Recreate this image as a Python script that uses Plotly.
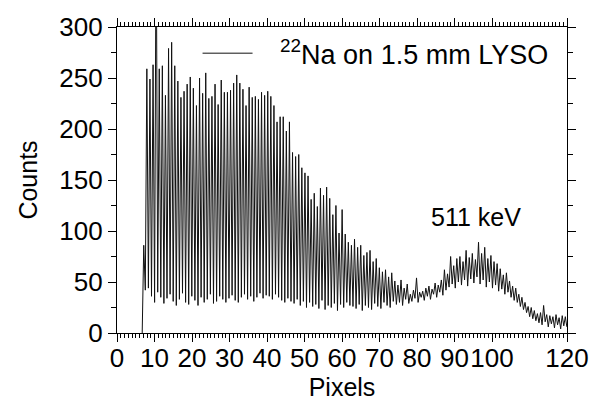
import numpy as np
import plotly.graph_objects as go

# 采样网格（像素单位）
x_start = 6.72
x_step = 0.4133

# 起始上升段
lead_in = [0, 86, 42]

# 各峰顶计数
peaks = [
    259, 249, 263, 420, 259, 262, 233, 279, 285, 262,
    247, 231, 237, 244, 251, 240, 223, 250, 235, 255,
    230, 232, 244, 224, 248, 236, 236, 238, 245, 253,
    245, 239, 223, 241, 231, 232, 229, 236, 233, 237,
    232, 223, 207, 212, 212, 198, 207, 177, 173, 175,
    162, 157, 154, 131, 137, 124, 142, 135, 143, 132,
    116, 125, 98, 121, 97, 89, 86, 92, 84, 86,
    76, 79, 81, 70, 73, 64, 60, 62, 55, 59,
    51, 47, 52, 44, 48, 38, 42, 54, 40, 41,
    44, 46, 43, 49, 47, 52, 62, 58, 75, 66,
    73, 75, 70, 81, 74, 78, 72, 89, 78, 84,
    73, 76, 70, 68, 63, 57, 59, 51, 46, 44,
    38, 35, 30, 26, 25, 22, 19, 20, 27, 18,
    17, 16, 18, 15, 17, 16,
]

# 各峰之后的谷底计数
valleys = [
    44, 36, 30, 40, 35, 29, 34, 38, 31, 27, 33, 39, 30, 28, 36, 32,
    27, 35, 30, 33, 38, 29, 31, 36, 33, 30, 34, 37, 32, 30, 35, 38,
    33, 36, 31, 35, 39, 34, 37, 36, 33, 38, 35, 32, 30, 34, 31,
    29, 33, 27, 31, 25, 30, 26, 28, 24, 32, 23, 27, 25, 29, 22, 28, 25, 30, 27, 26,
    24, 28, 22, 27, 25, 23, 29, 26, 24, 30, 27, 25, 31, 28, 30, 27, 33, 29, 31, 34,
    30, 35, 32, 36, 33, 38, 35, 40, 37,
    42, 45, 48, 44, 50, 47, 52, 46, 53, 49, 55, 48, 52, 45, 50, 44, 47, 41, 43, 38, 40,
    35, 32, 30, 26, 23, 20, 16, 14, 12, 10,
    8, 11, 6, 9, 5, 8, 4, 7, 6,
]

x_ticks = [0, 10, 20, 30, 40, 50, 60, 70, 80, 90, 100, 120]
y_ticks = [0, 50, 100, 150, 200, 250, 300]

counts = list(lead_in)
for p, v in zip(peaks, valleys):
    counts += [p, v]
counts = np.array(counts)
pixels = x_start + x_step * np.arange(len(counts))

FONT = "Liberation Sans, Arial, sans-serif"

fig = go.Figure()
fig.add_trace(
    go.Scatter(
        x=pixels,
        y=counts,
        mode="lines",
        name="&nbsp;&nbsp;&nbsp;<sup>22</sup>Na on 1.5 mm LYSO",
        line=dict(color="#111111", width=1),
    )
)

fig.add_annotation(
    x=95.6, y=114, text="511 keV", showarrow=False,
    font=dict(size=25, color="black", family=FONT),
)

axis_common = dict(
    showline=True, linecolor="black", linewidth=1.2, mirror="ticks",
    ticks="outside", ticklen=8, tickwidth=1.2, tickcolor="black",
    showgrid=False, zeroline=False, tickangle=0,
    tickfont=dict(size=26, color="black", family=FONT),
    title_font=dict(size=25, color="black", family=FONT),
)

fig.update_xaxes(
    range=[0, 120], tickvals=x_ticks, ticktext=[str(t) for t in x_ticks],
    title_text="Pixels", title_standoff=0, ticklabelstandoff=-6,
    minor=dict(dtick=1, ticklen=4, tickcolor="black", ticks="outside"),
    **axis_common,
)
fig.update_yaxes(
    range=[0, 300], tickvals=y_ticks,
    title_text="Counts", title_standoff=14,
    minor=dict(dtick=25, ticklen=5, tickcolor="black", ticks="outside"),
    **axis_common,
)

fig.update_layout(
    width=601, height=405,
    margin=dict(l=117, r=32, t=19, b=72),
    plot_bgcolor="white", paper_bgcolor="white",
    showlegend=True,
    legend=dict(
        x=0.179, y=0.913, xanchor="left", yanchor="middle",
        bgcolor="rgba(0,0,0,0)", itemwidth=50,
        font=dict(size=27, color="black", family=FONT),
    ),
)

# 去掉页面默认边距，让图从左上角开始
fig.write_html(
    "out.html",
    config={"displayModeBar": False},
    post_script="document.body.style.margin='0';",
)
